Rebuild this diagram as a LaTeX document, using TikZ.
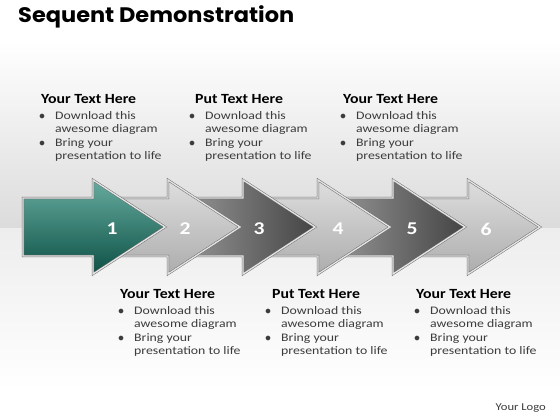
\documentclass[tikz,border=0pt]{standalone}
\usepackage{fontspec}
\setmainfont{Carlito}[FakeStretch=1.2]
\newfontfamily\titleface{Carlito}[FakeStretch=1.13]
\newfontfamily\headfont{Poppins}[FakeStretch=1.07]
\usepackage{xcolor}
\definecolor{tealhi}{HTML}{66AB9E}
\definecolor{tealmid}{HTML}{1C7264}
\definecolor{tealdk}{HTML}{0D5146}
\definecolor{lighthi}{HTML}{DEDEDE}
\definecolor{lightdk}{HTML}{ADADAD}
\definecolor{darkhi}{HTML}{9C9C9C}
\definecolor{darkdk}{HTML}{444444}
\definecolor{edgegray}{HTML}{6E6E6E}
\definecolor{bodygray}{HTML}{3C3C3C}

% one arrow of the row, #1 = style, #2 = x of the tip
\newcommand{\seqarrow}[2]{%
  \draw[#1] ({#2-142},198) -- ({#2-72},198) -- ({#2-72},180) -- (#2,227)
    -- ({#2-72},274) -- ({#2-72},256) -- ({#2-142},256) -- cycle;}
\newcommand{\bulletlines}{%
  \begin{tabular}{@{}l@{\hspace{10pt}}l@{}}
    $\bullet$ & Download this\\
              & awesome diagram\\
    $\bullet$ & Bring your\\
              & presentation to life
  \end{tabular}}

\begin{document}
\begin{tikzpicture}[x=1pt,y=-1pt,
    arrowbase/.style={draw=edgegray,line width=0.5pt,double=white!80!gray,double distance=1.3pt},
    tealarrow/.style={arrowbase,top color=tealhi,middle color=tealmid,bottom color=tealdk},
    lightarrow/.style={arrowbase,top color=lighthi,bottom color=lightdk},
    darkarrow/.style={arrowbase,left color=darkhi,right color=darkdk},
    steplabel/.style={text=white,font=\fontsize{18}{18}\selectfont\bfseries},
    blocktitle/.style={anchor=west,inner sep=0pt,font=\titleface\fontsize{14}{14}\selectfont\bfseries},
    blockbody/.style={anchor=north west,inner sep=0pt,text=bodygray,
      font=\fontsize{11.5}{13.4}\selectfont}]
  \useasboundingbox (0,0) rectangle (560,420);
  % background
  \fill[white] (0,0) rectangle (560,40);
  \fill[top color=white,bottom color=gray!28] (0,40) rectangle (560,228);
  \fill[top color=gray!14,bottom color=white] (0,228) rectangle (560,390);
  \fill[white] (0,390) rectangle (560,420);
  \node[anchor=west,inner sep=0pt,font=\headfont\fontsize{21}{21}\selectfont\bfseries] (title) at (18,17) {Sequent Demonstration};

  % arrows, back to front
  \seqarrow{lightarrow}{540}
  \seqarrow{darkarrow}{465}
  \seqarrow{lightarrow}{390}
  \seqarrow{darkarrow}{315}
  \seqarrow{lightarrow}{240}
  \seqarrow{tealarrow}{165}
  \node[steplabel] (n1) at (112,229) {1};
  \node[steplabel] (n2) at (185,229) {2};
  \node[steplabel] (n3) at (259,229) {3};
  \node[steplabel] (n4) at (338,229) {4};
  \node[steplabel] (n5) at (412,229) {5};
  \node[steplabel] (n6) at (486,229) {6};

  % text blocks above
  \node[blocktitle] (t1) at (41,99) {Your Text Here};
  \node[blockbody] (b1) at (39,110) {\bulletlines};
  \node[blocktitle] (t2) at (195,99) {Put Text Here};
  \node[blockbody] (b2) at (189,110) {\bulletlines};
  \node[blocktitle] (t3) at (343,99) {Your Text Here};
  \node[blockbody] (b3) at (340,110) {\bulletlines};
  % text blocks below
  \node[blocktitle] (t4) at (120,294) {Your Text Here};
  \node[blockbody] (b4) at (118,305) {\bulletlines};
  \node[blocktitle] (t5) at (272,294) {Put Text Here};
  \node[blockbody] (b5) at (265,305) {\bulletlines};
  \node[blocktitle] (t6) at (416,294) {Your Text Here};
  \node[blockbody] (b6) at (414,305) {\bulletlines};

  \node[anchor=east,inner sep=0pt,text=bodygray,font=\fontsize{10.5}{11}\selectfont] (logo) at (546,408) {Your Logo};
\end{tikzpicture}
\end{document}
